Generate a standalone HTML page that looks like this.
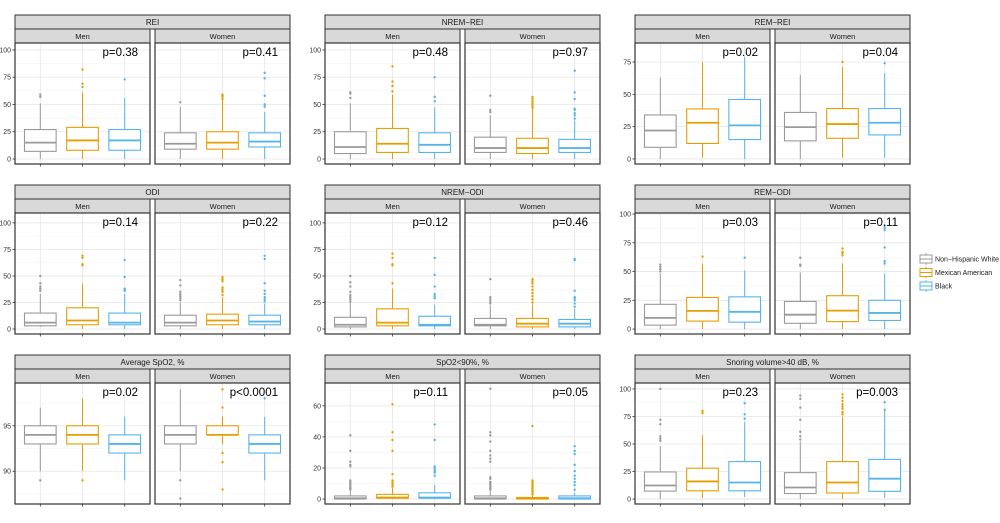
<!DOCTYPE html>
<html><head><meta charset="utf-8"><style>
body{margin:0;background:#fff;}
svg{display:block;font-family:"Liberation Sans",sans-serif;}
</style></head><body>
<svg id="chart" width="1000" height="523" viewBox="0 0 1000 523" xmlns="http://www.w3.org/2000/svg">
<g id="legend"></g>
</svg>
<script>
// ---- data: each group = [whiskerLow, q1, median, q3, whiskerHigh, ...outliers]
const panelTitles = ["REI","NREM\u2212REI","REM\u2212REI","ODI","NREM\u2212ODI","REM\u2212ODI","Average SpO2, %","SpO2<90%, %","Snoring volume>40 dB, %"];
const pMen   = ["p=0.38","p=0.48","p=0.02","p=0.14","p=0.12","p=0.03","p=0.02","p=0.11","p=0.23"];
const pWomen = ["p=0.41","p=0.97","p=0.04","p=0.22","p=0.46","p=0.11","p<0.0001","p=0.05","p=0.003"];
const groups = ["Non\u2212Hispanic White","Mexican American","Black"];
const sexes = ["Men","Women"];
const yDomains = [[-4.6,106.4],[-4.6,106.4],[-3.9,89.7],[-4.7,109.3],[-4.7,109.3],[-4.3,100.9],[86.4,99.7],[-3.2,74.7],[-4.5,105.4]];
const yTicks = [[0,25,50,75,100],[0,25,50,75,100],[0,25,50,75],[0,25,50,75,100],[0,25,50,75,100],[0,25,50,75,100],[90,95],[0,20,40,60],[0,25,50,75,100]];
const reiMen   = [[0,7,15,27,51,57,59],[0,8,17,29,61,66,69,82],[0,8,17,27,56,73]];
const reiWomen = [[0,9,14,24,48,52],[0,9,15,25,54,55,57,58,59],[0,11,16,24,43,48,50,58,74,79]];
const nremReiMen   = [[0,5,11,25,51,56,60,61],[0,6,14,28,59,62,67,71,85],[0,6,13,24,47,53,57,75]];
const nremReiWomen = [[0,6,10,20,40,43,45,58],[0,5,10,19,46,47,49,51,53,55,57],[0,6,10,18,35,37,40,42,45,46,55,61,81]];
const remReiMen   = [[0,9,22,34,63],[1,12,28,38.7,75],[0,15,26,46,79]];
const remReiWomen = [[0,14,24.6,36,65],[1,16,27,39,71,75],[1,18.6,28,39,66.5,74]];
const odiMen   = [[2,3,6,15,33,36,38,40,43,50],[0,4,8,20,43,60,61,67,69],[0,4,6,15,33,36,37,38,49,65]];
const odiWomen = [[0,3,6,13,25,27,29,31,33,35,41,46],[0,4,8,14,30,32,35,37,39,45,47,49],[0,4,7,13,24,26,28,30,33,36,43,66,69]];
const nremOdiMen   = [[0,2,4,11,25,26,28,30,32,35,40,44,50],[0,3,6,19,38,43,60,61,67,71],[0,3,4,12,23,29,31,33,40,51,67]];
const nremOdiWomen = [[0,3,4,10,22,24,26,28,30,47],[0,2,5,10,23,25,28,31,34,37,40,43,45,47],[0,2,5,9,19,21,24,27,29,30,36,65,66]];
const remOdiMen   = [[0,3.4,9.7,21.5,48,50,52,54,56],[0,6.9,15.8,27.5,57,63],[0,6,15,28,51,62]];
const remOdiWomen = [[0,5,12.5,24,49,55,56,62],[0,6.5,16,29,57,64,66,67,70],[0,7.5,14,25,48,57,59,71,86,88,90]];
const spo2Men   = [[90,93,94,95,97,89],[90,93,94,95,98,89],[89,92,93,94,96]];
const spo2Women = [[90,93,94,95,99,89,87],[93,94,94,95,96,99,97,92,91,88],[89,92,93,94,96,98]];
const lowSpo2Men   = [[0,0,0.5,2,5,6,7,8,9,10,11,12,21,22,24,31,41],[0,0.5,1,3,7,8,9,10,11,12,16,31,38,43,61],[0,0.5,1,4,9,15,17,18,19,20,21,38,48]];
const lowSpo2Women = [[0,0,0.5,2,5,6,7,8,9,10,11,13,14,24,26,28,31,37,41,43,71],[0,0,0.5,1,2,3,4,5,6,7,8,9,10,11,12,47],[0,0,0.5,2,4,6,9,11,13,15,18,22,29,31,34]];
const snoreMen   = [[0,7.2,12.3,24.6,48,53,55,57,68,72,100],[1,7.5,16,28,58,78,80],[2,7.5,15,34,70,73,77,87]];
const snoreWomen = [[0,5,10.5,24,52,54,57,61,72,83,91,94],[0,5.5,15,34,75,77,79,82,84,86,89,92,95],[1,7,18.5,36,80,81,88]];
const panelData = [[reiMen,reiWomen],[nremReiMen,nremReiWomen],[remReiMen,remReiWomen],[odiMen,odiWomen],[nremOdiMen,nremOdiWomen],[remOdiMen,remOdiWomen],[spo2Men,spo2Women],[lowSpo2Men,lowSpo2Women],[snoreMen,snoreWomen]];

const colors = ["#9a9a9a","#E69F00","#56B4E9"];
const colX = [15,325,635], rowY = [15,185,355];
const FW = 135, GAP = 5, PT = 28, PH = 121;
const NS = "http://www.w3.org/2000/svg";
const svg = document.getElementById('chart');
function mk(tag, attrs, parent){const e=document.createElementNS(NS,tag);for(const k in attrs)e.setAttribute(k,attrs[k]);(parent||svg).appendChild(e);return e;}
function slug(s){return s.toLowerCase().replace(/[^a-z0-9]+/g,'-').replace(/^-|-$/g,'');}

panelData.forEach((pd, pi) => {
  const px = colX[pi%3], py = rowY[Math.floor(pi/3)];
  const g = mk('g',{});
  
  
  const [d0,d1] = yDomains[pi];
  const plotTop = py + PT, plotBot = py + PT + PH;
  const yS = v => plotBot - (v - d0) / (d1 - d0) * PH;
  const ts = mk('rect',{x:px,y:py,width:FW*2+GAP,height:14,fill:'#d9d9d9',stroke:'#333','stroke-width':1},g);
  
  
  const tt = mk('text',{x:px+(FW*2+GAP)/2,y:py+10,'text-anchor':'middle','font-size':'8',fill:'#1a1a1a'},g);
  tt.textContent = panelTitles[pi];
  
  
  const ticks = yTicks[pi];
  const step = ticks[1]-ticks[0];
  ticks.forEach(t => {
    const lab = mk('text',{x:px-4,y:yS(t)+2.5,'text-anchor':'end','font-size':'7',fill:'#333'},g);
    lab.textContent = t;
    
    
    mk('line',{x1:px-2.5,x2:px,y1:yS(t),y2:yS(t),stroke:'#333','stroke-width':0.8},g);
  });
  pd.forEach((facet, fi) => {
    const fx = px + fi*(FW+GAP);
    const fg = mk('g',{},g);
    
    
    const fs = mk('rect',{x:fx,y:py+14,width:FW,height:14,fill:'#d9d9d9',stroke:'#333','stroke-width':1},fg);
    
    
    const ft = mk('text',{x:fx+FW/2,y:py+24,'text-anchor':'middle','font-size':'7.5',fill:'#1a1a1a'},fg);
    ft.textContent = sexes[fi];
    
    
    mk('rect',{x:fx,y:plotTop,width:FW,height:PH,fill:'#fff'},fg);
    for (let v = ticks[0] - step*3; v <= d1; v += step/2) {
      if (v < d0) continue;
      const major = Math.abs(((v - ticks[0]) / step) % 1) < 1e-6;
      mk('line',{x1:fx,x2:fx+FW,y1:yS(v),y2:yS(v),stroke:major?'#e6e6e6':'#f2f2f2','stroke-width':major?0.8:0.5},fg);
    }
    const unit = FW/3.2;
    const xS = i => fx + (i+0.6)*unit;
    facet.forEach((st, gi) => {
      const cx = xS(gi);
      mk('line',{x1:cx,x2:cx,y1:plotTop,y2:plotBot,stroke:'#e6e6e6','stroke-width':0.8},fg);
      mk('line',{x1:cx,x2:cx,y1:plotBot,y2:plotBot+2.5,stroke:'#333','stroke-width':0.8},fg);
    });
    facet.forEach((st, gi) => {
      const cx = xS(gi), bw = unit*0.75, c = colors[gi];
      const bg = mk('g',{},fg);
      
      
      const [lo,q1,md,q3,hi] = st;
      mk('line',{x1:cx,x2:cx,y1:yS(hi),y2:yS(q3),stroke:c,'stroke-width':1},bg);
      mk('line',{x1:cx,x2:cx,y1:yS(q1),y2:yS(lo),stroke:c,'stroke-width':1},bg);
      mk('rect',{x:cx-bw/2,y:yS(q3),width:bw,height:Math.max(0.5,yS(q1)-yS(q3)),fill:'#fff',stroke:c,'stroke-width':1.1},bg);
      mk('line',{x1:cx-bw/2,x2:cx+bw/2,y1:yS(md),y2:yS(md),stroke:c,'stroke-width':1.8},bg);
      st.slice(5).forEach(o => {
        const p = mk('circle',{cx:cx,cy:yS(o),r:1.2,fill:c},bg);
        
        
      });
    });
    const pv = mk('text',{x:fx+FW-12,y:plotTop+13,'text-anchor':'end','font-size':'11.5',fill:'#000'},fg);
    pv.textContent = fi===0 ? pMen[pi] : pWomen[pi];
    
    
    mk('rect',{x:fx,y:plotTop,width:FW,height:PH,fill:'none',stroke:'#333','stroke-width':1.2},fg);
  });
});

const lg = document.getElementById('legend');
groups.forEach((name, i) => {
  const y = 259 + i*13.5;
  const eg = mk('g',{},lg);
  
  
  mk('line',{x1:926,x2:926,y1:y-6,y2:y+6,stroke:colors[i],'stroke-width':0.8},eg);
  mk('rect',{x:920,y:y-4,width:12,height:8,fill:'#fff',stroke:colors[i],'stroke-width':1},eg);
  mk('line',{x1:920,x2:932,y1:y,y2:y,stroke:colors[i],'stroke-width':1},eg);
  const t = mk('text',{x:935,y:y+2.7,'font-size':'7','textLength':i===0?64:null,fill:'#1a1a1a'},eg);
  if (i !== 0) t.removeAttribute('textLength');
  t.textContent = name;
});
</script>
</body></html>
